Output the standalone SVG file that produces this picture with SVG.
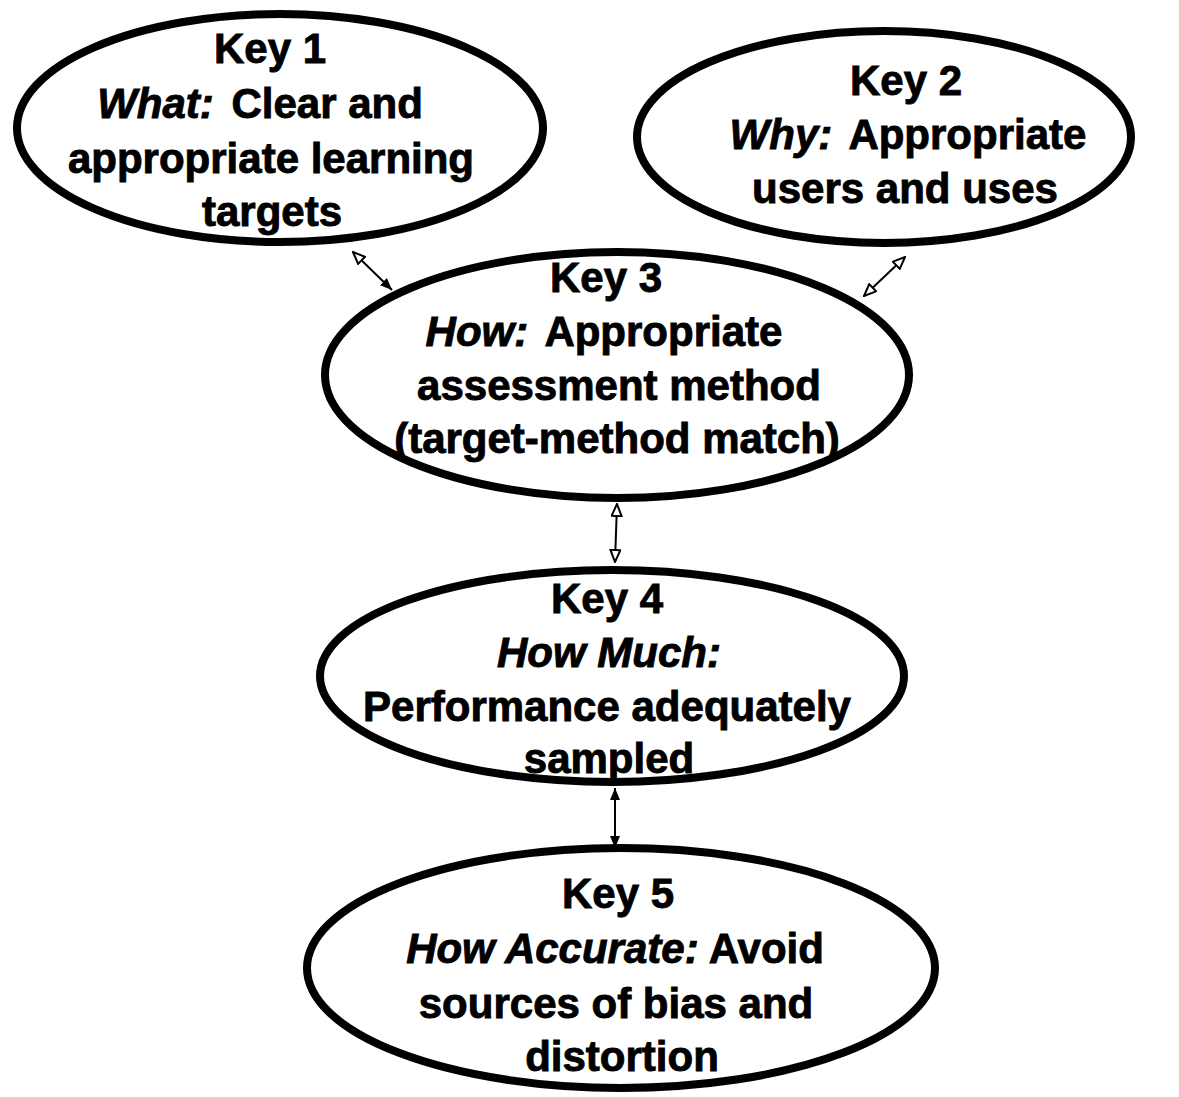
<svg xmlns="http://www.w3.org/2000/svg" width="1179" height="1097" viewBox="0 0 1179 1097">
  <style>
    .node ellipse { fill: #ffffff; stroke: #000000; stroke-width: 8; }
    .node text { font-family: "Liberation Sans", Arial, sans-serif; font-weight: bold; font-size: 42px; fill: #000000; stroke: #000000; stroke-width: 0.9; text-anchor: middle; }
    .node .q { font-style: italic; }
    .link { stroke: #000000; stroke-width: 2; fill: none; }
  </style>
  <defs>
    <marker id="head" viewBox="0 0 12 10" refX="12" refY="5" markerWidth="12" markerHeight="10" markerUnits="userSpaceOnUse" orient="auto-start-reverse">
      <path d="M0,0 L12,5 L0,10 z" fill="#000000"/>
    </marker>
    <marker id="headOpen" viewBox="-1 -1 14 12" refX="12" refY="5" markerWidth="14" markerHeight="12" markerUnits="userSpaceOnUse" orient="auto-start-reverse">
      <path d="M0,0 L12,5 L0,10 z" fill="#ffffff" stroke="#000000" stroke-width="2"/>
    </marker>
  </defs>

  <rect width="1179" height="1097" fill="#ffffff"/>

  <g id="key1" class="node">
    <ellipse cx="280" cy="128" rx="263" ry="114"/>
    <text x="270" y="63">Key 1</text>
    <text x="260" y="118"><tspan class="q">What:</tspan><tspan dx="6"> Clear and</tspan></text>
    <text x="271" y="173">appropriate learning</text>
    <text x="272" y="226">targets</text>
  </g>

  <g id="key2" class="node">
    <ellipse cx="884" cy="137" rx="247" ry="106"/>
    <text x="906" y="95">Key 2</text>
    <text x="908" y="149"><tspan class="q">Why:</tspan><tspan dx="6"> Appropriate</tspan></text>
    <text x="905" y="203">users and uses</text>
  </g>

  <g id="key3" class="node">
    <ellipse cx="617" cy="375" rx="292" ry="123"/>
    <text x="606" y="292">Key 3</text>
    <text x="604" y="346"><tspan class="q">How:</tspan><tspan dx="6"> Appropriate</tspan></text>
    <text x="619" y="400">assessment method</text>
    <text x="617" y="453">(target-method match)</text>
  </g>

  <g id="key4" class="node">
    <ellipse cx="612" cy="676" rx="292" ry="106"/>
    <text x="607" y="613">Key 4</text>
    <text x="609" y="667" class="q">How Much:</text>
    <text x="607" y="721">Performance adequately</text>
    <text x="609" y="773">sampled</text>
  </g>

  <g id="key5" class="node">
    <ellipse cx="621" cy="968" rx="314" ry="120"/>
    <text x="618" y="908">Key 5</text>
    <text x="615" y="963"><tspan class="q">How Accurate:</tspan> Avoid</text>
    <text x="616" y="1018">sources of bias and</text>
    <text x="622" y="1071">distortion</text>
  </g>

  <g id="connectors">
    <line class="link" x1="353" y1="252" x2="392" y2="290" marker-start="url(#headOpen)" marker-end="url(#head)"/>
    <line class="link" x1="905" y1="257" x2="864" y2="296" marker-start="url(#headOpen)" marker-end="url(#headOpen)"/>
    <line class="link" x1="617" y1="504" x2="615" y2="562" marker-start="url(#headOpen)" marker-end="url(#headOpen)"/>
    <line class="link" x1="615" y1="788" x2="615" y2="848" marker-start="url(#head)" marker-end="url(#head)"/>
  </g>
</svg>
